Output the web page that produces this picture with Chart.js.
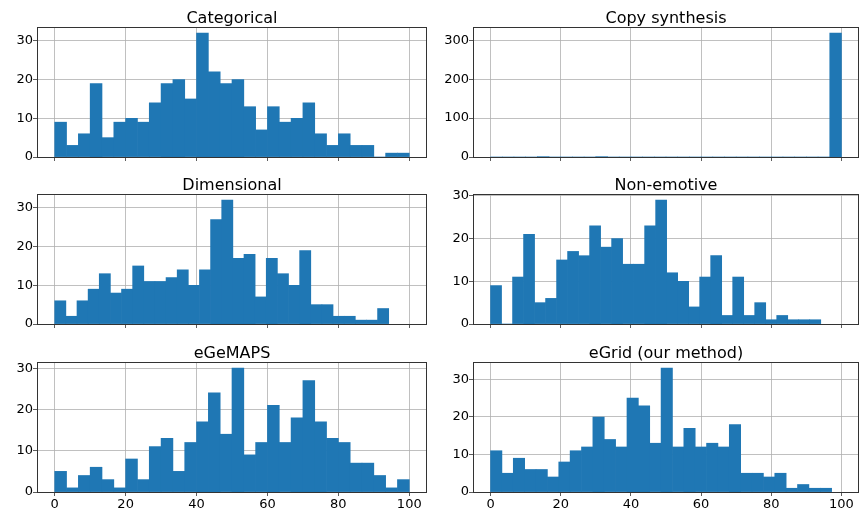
<!DOCTYPE html>
<html>
<head>
<meta charset="utf-8">
<script src="https://cdn.jsdelivr.net/npm/chart.js@4/dist/chart.umd.min.js"></script>
<style>
  body { margin: 0; background: #fff; }
  #fig { position: relative; width: 860px; height: 510px; }
  #fig div { position: absolute; }
</style>
</head>
<body>
<div id="fig"></div>
<script>
// counts per bin (30 bins each)
var categoricalCounts = [9, 3, 6, 19, 5, 9, 10, 9, 14, 19, 20, 15, 32, 22, 19, 20, 13, 7, 13, 9, 10, 14, 6, 3, 6, 3, 3, 0, 1, 1];
var copySynthesisCounts = [0, 0, 0, 0, 1, 0, 0, 0, 0, 1, 0, 0, 0, 0, 0, 0, 0, 0, 0, 0, 0, 0, 0, 0, 0, 0, 0, 0, 0, 318];
var dimensionalCounts = [6, 2, 6, 9, 13, 8, 9, 15, 11, 11, 12, 14, 10, 14, 27, 32, 17, 18, 7, 17, 13, 10, 19, 5, 5, 2, 2, 1, 1, 4];
var nonEmotiveCounts = [9, 0, 11, 21, 5, 6, 15, 17, 16, 23, 18, 20, 14, 14, 23, 29, 12, 10, 4, 11, 16, 2, 11, 2, 5, 1, 2, 1, 1, 1];
var egemapsCounts = [5, 1, 4, 6, 3, 1, 8, 3, 11, 13, 5, 12, 17, 24, 14, 30, 9, 12, 21, 12, 18, 27, 17, 13, 12, 7, 7, 4, 1, 3];
var egridCounts = [11, 5, 9, 6, 6, 4, 8, 11, 12, 20, 14, 12, 25, 23, 13, 33, 12, 17, 12, 13, 12, 18, 5, 5, 4, 5, 1, 2, 1, 1];

// data range (first and last bin edge) of each histogram
var categoricalRange = [0, 100];
var copySynthesisRange = [0, 100];
var dimensionalRange = [0, 94.2];
var nonEmotiveRange = [0, 94.1];
var egemapsRange = [0, 100];
var egridRange = [0, 97.2];

var blue = '#1f77b4';
var gridGrey = '#b0b0b0';
var font = 'DejaVu Sans';

// frame + title drawn over the axes
var framePlugin = {
  id: 'frame',
  afterDraw: function (chart) {
    var ctx = chart.ctx;
    var a = chart.chartArea;
    ctx.save();
    ctx.strokeStyle = '#333';
    ctx.lineWidth = 1;
    ctx.strokeRect(Math.round(a.left) + 0.5, Math.round(a.top) + 0.5,
      Math.round(a.right - a.left) - 1, Math.round(a.bottom - a.top));
    ctx.fillStyle = '#000';
    ctx.font = '16px "' + font + '"';
    ctx.textAlign = 'center';
    ctx.textBaseline = 'alphabetic';
    ctx.fillText(chart.options.plugins.panelTitle.text, (a.left + a.right) / 2, a.top - 4);
    ctx.restore();
  }
};

function makePanel(p) {
  var div = document.createElement('div');
  div.style.left = p.left + 'px';
  div.style.top = p.top + 'px';
  var canvas = document.createElement('canvas');
  canvas.width = 430;
  canvas.height = p.height;
  div.appendChild(canvas);
  document.getElementById('fig').appendChild(div);

  var n = p.counts.length;
  var w = (p.range[1] - p.range[0]) / n;
  var points = p.counts.map(function (c, i) {
    return { x: p.range[0] + (i + 0.5) * w, y: c };
  });
  var yMax = Math.max.apply(null, p.counts) * 1.05;

  new Chart(canvas, {
    type: 'bar',
    data: {
      datasets: [{
        data: points,
        backgroundColor: blue,
        borderWidth: 0,
        barPercentage: 1,
        categoryPercentage: 1
      }]
    },
    options: {
      responsive: false,
      animation: false,
      layout: { padding: { top: 27, right: p.padRight, left: 0, bottom: 0 } },
      plugins: {
        legend: { display: false },
        tooltip: { enabled: false },
        panelTitle: { text: p.title }
      },
      scales: {
        x: {
          type: 'linear',
          min: -5,
          max: 105,
          offset: false,
          z: 1,
          grid: { color: gridGrey, lineWidth: 0.8, tickColor: '#333', tickLength: 4, offset: false },
          border: { display: false },
          ticks: {
            display: p.showX,
            stepSize: 20,
            includeBounds: false,
            padding: 1,
            maxRotation: 0,
            color: '#000',
            font: { family: font, size: 13 }
          },
          afterFit: function (s) { s.height = p.showX ? 18 : 10; }
        },
        y: {
          min: 0,
          max: yMax,
          z: 1,
          grid: { color: gridGrey, lineWidth: 0.8, tickColor: '#333', tickLength: 4 },
          border: { display: false },
          ticks: {
            stepSize: p.yStep,
            includeBounds: false,
            padding: 0,
            color: '#000',
            font: { family: font, size: 13 }
          },
          afterFit: function (s) { s.width = p.yWidth; }
        }
      }
    },
    plugins: [framePlugin]
  });
}

var panels = [
  { title: 'Categorical', counts: categoricalCounts, range: categoricalRange, yStep: 10, left: 0, top: 0, height: 167, showX: false, yWidth: 37, padRight: 3 },
  { title: 'Copy synthesis', counts: copySynthesisCounts, range: copySynthesisRange, yStep: 100, left: 430, top: 0, height: 167, showX: false, yWidth: 43, padRight: 1 },
  { title: 'Dimensional', counts: dimensionalCounts, range: dimensionalRange, yStep: 10, left: 0, top: 167, height: 167, showX: false, yWidth: 37, padRight: 3 },
  { title: 'Non-emotive', counts: nonEmotiveCounts, range: nonEmotiveRange, yStep: 10, left: 430, top: 167, height: 167, showX: false, yWidth: 43, padRight: 1 },
  { title: 'eGeMAPS', counts: egemapsCounts, range: egemapsRange, yStep: 10, left: 0, top: 335, height: 175, showX: true, yWidth: 37, padRight: 3 },
  { title: 'eGrid (our method)', counts: egridCounts, range: egridRange, yStep: 10, left: 430, top: 335, height: 175, showX: true, yWidth: 43, padRight: 1 }
];

panels.forEach(makePanel);
</script>
</body>
</html>
